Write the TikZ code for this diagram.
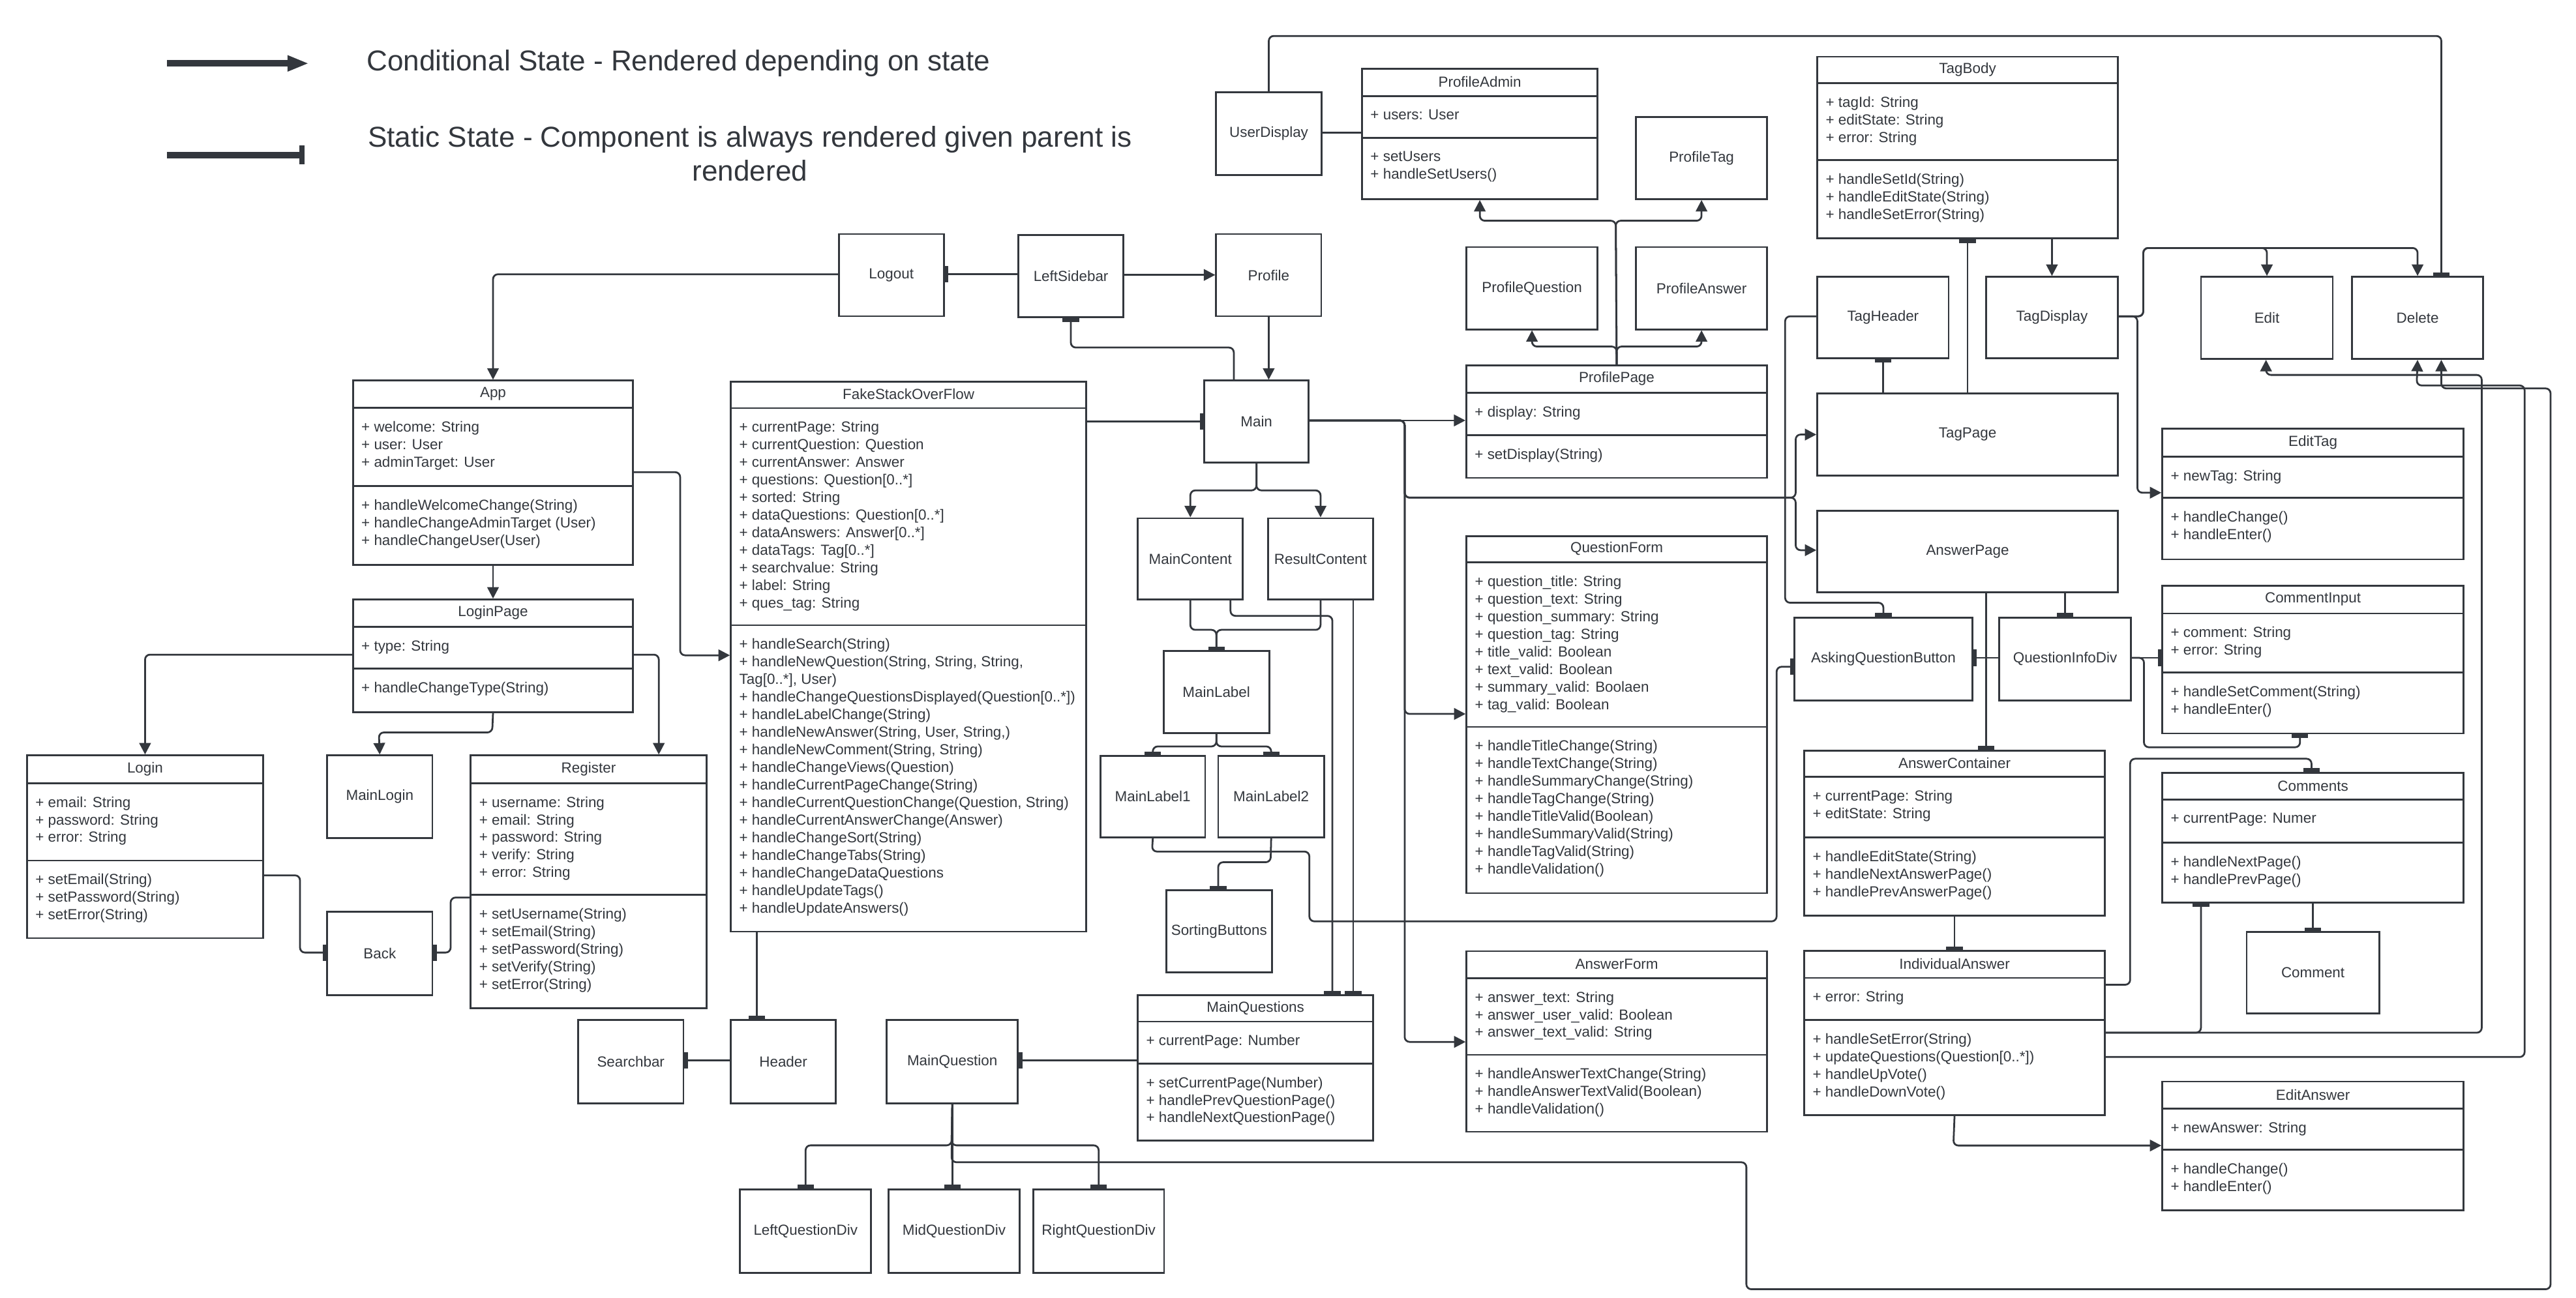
\documentclass[tikz,border=0pt]{standalone}
\usepackage{fontspec}
\setmainfont{Liberation Sans}
\usetikzlibrary{arrows.meta}
\definecolor{ink}{HTML}{33373D}

\begin{document}
\begin{tikzpicture}[x=1pt, y=-1pt,
  every node/.style={font=\fontsize{8.9}{10.7}\selectfont, text=ink},
  box/.style={draw=ink, line width=1.1pt, anchor=north west, inner sep=0pt},
  members/.style={anchor=north west, align=left, inner sep=0pt, xshift=5.5pt},
  divider/.style={draw=ink, line width=1.1pt},
  wire/.style={draw=ink, line width=1.1pt, rounded corners=3pt},
  cond/.style={wire, -{Triangle[length=7pt,width=7pt]}},
  stat/.style={wire, -{Bar[width=10pt,line width=2.2pt]}},
  legendtext/.style={font=\fontsize{17.5}{20.5}\selectfont}]
\useasboundingbox (0,0) rectangle (1568,790);

% legend
\coordinate (legCondA) at (101.7,38.6);
\coordinate (legCondB) at (188,38.6);
\coordinate (legStatA) at (101.7,94.4);
\coordinate (legStatB) at (185.5,94.4);
\draw[draw=ink, line width=4pt, -{Triangle[length=13pt,width=9pt]}] (legCondA) -- (legCondB);
\draw[draw=ink, line width=4pt, -{Bar[width=11.5pt,line width=3.2pt]}] (legStatA) -- (legStatB);
\node[legendtext, anchor=west, inner sep=0pt] (legCondTxt) at (223,38.6) {Conditional State - Rendered depending on state};
\node[legendtext, align=center] (legStatTxt) at (456.5,93.6) {Static State - Component is always rendered given parent is\\rendered};

% simple components
\node[box, minimum width=64pt, minimum height=50pt] (logout) at (510,142) {Logout};
\node[box, minimum width=64pt, minimum height=50pt] (leftSidebar) at (619.3,142.6) {LeftSidebar};
\node[box, minimum width=64pt, minimum height=50pt] (profile) at (739.7,142) {Profile};
\node[box, minimum width=64.5pt, minimum height=50.4pt] (userDisplay) at (739.5,55.6) {UserDisplay};
\node[box, minimum width=63.5pt, minimum height=49.8pt] (main) at (732.5,231.2) {Main};
\node[box, minimum width=64pt, minimum height=49.4pt] (mainContent) at (692,315) {MainContent};
\node[box, minimum width=64.1pt, minimum height=49.4pt] (resultContent) at (771.2,315) {ResultContent};
\node[box, minimum width=64.3pt, minimum height=50pt] (mainLabel) at (707.7,395.8) {MainLabel};
\node[box, minimum width=63.7pt, minimum height=49.6pt] (mainLabel1) at (669.3,459.7) {MainLabel1};
\node[box, minimum width=64.4pt, minimum height=49.6pt] (mainLabel2) at (741,459.7) {MainLabel2};
\node[box, minimum width=64.4pt, minimum height=50.1pt] (sortingButtons) at (709.3,541.5) {SortingButtons};
\node[box, minimum width=64.2pt, minimum height=50.6pt] (searchbar) at (351.3,620.6) {Searchbar};
\node[box, minimum width=63.9pt, minimum height=50.6pt] (header) at (444.3,620.6) {Header};
\node[box, minimum width=79.8pt, minimum height=50.6pt] (mainQuestion) at (539.2,620.6) {MainQuestion};
\node[box, minimum width=79.8pt, minimum height=50.8pt] (leftQDiv) at (449.9,723.6) {LeftQuestionDiv};
\node[box, minimum width=79.6pt, minimum height=50.8pt] (midQDiv) at (540.4,723.6) {MidQuestionDiv};
\node[box, minimum width=79.6pt, minimum height=50.8pt] (rightQDiv) at (628.4,723.6) {RightQuestionDiv};
\node[box, minimum width=64pt, minimum height=50.3pt] (mainLogin) at (198.6,459.4) {MainLogin};
\node[box, minimum width=64pt, minimum height=50.7pt] (back) at (198.6,554.7) {Back};
\node[box, minimum width=79.7pt, minimum height=50.1pt] (profileTag) at (995.3,70.6) {ProfileTag};
\node[box, minimum width=79.9pt, minimum height=50.1pt] (profileQuestion) at (892,149.9) {ProfileQuestion};
\node[box, minimum width=79.7pt, minimum height=50.1pt] (profileAnswer) at (995.3,149.9) {ProfileAnswer};
\node[box, minimum width=80pt, minimum height=49.6pt] (tagHeader) at (1105.6,168) {TagHeader};
\node[box, minimum width=80.3pt, minimum height=49.6pt] (tagDisplay) at (1208.3,168) {TagDisplay};
\node[box, minimum width=183pt, minimum height=50pt] (tagPage) at (1105.6,239) {TagPage};
\node[box, minimum width=183pt, minimum height=49.6pt] (answerPage) at (1105.6,310.4) {AnswerPage};
\node[box, minimum width=80.2pt, minimum height=50pt] (edit) at (1339.2,168) {Edit};
\node[box, minimum width=80pt, minimum height=50pt] (delete) at (1431,168) {Delete};
\node[box, minimum width=108.3pt, minimum height=50.5pt] (askingQButton) at (1091.7,375.5) {AskingQuestionButton};
\node[box, minimum width=80.1pt, minimum height=50.5pt] (qInfoDiv) at (1216.4,375.5) {QuestionInfoDiv};
\node[box, minimum width=80.6pt, minimum height=49.5pt] (comment) at (1367,567) {Comment};

% App
\node[box, minimum width=170.5pt, minimum height=112.1pt] (app) at (214.3,231.2) {};
\draw[divider] (app.west |- 0,248.2) -- (app.east |- 0,248.2);
\draw[divider] (app.west |- 0,296) -- (app.east |- 0,296);
\node (appName) at (app.north |- 0,239.7) {App};
\node[members] (appAttr) at (app.west |- 0,256.2) {+ welcome: String\\+ user: User\\+ adminTarget: User};
\node[members] (appOps) at (app.west |- 0,304) {+ handleWelcomeChange(String)\\+ handleChangeAdminTarget (User)\\+ handleChangeUser(User)};

% LoginPage
\node[box, minimum width=170.5pt, minimum height=68.5pt] (loginPage) at (214.3,364.5) {};
\draw[divider] (loginPage.west |- 0,381.6) -- (loginPage.east |- 0,381.6);
\draw[divider] (loginPage.west |- 0,407) -- (loginPage.east |- 0,407);
\node (loginPageName) at (loginPage.north |- 0,373.05) {LoginPage};
\node[members] (loginPageAttr) at (loginPage.west |- 0,389.6) {+ type: String};
\node[members] (loginPageOps) at (loginPage.west |- 0,415) {+ handleChangeType(String)};

% Login
\node[box, minimum width=143.7pt, minimum height=111.3pt] (login) at (15.9,459.4) {};
\draw[divider] (login.west |- 0,476.8) -- (login.east |- 0,476.8);
\draw[divider] (login.west |- 0,524) -- (login.east |- 0,524);
\node (loginName) at (login.north |- 0,468.1) {Login};
\node[members] (loginAttr) at (login.west |- 0,484.8) {+ email: String\\+ password: String\\+ error: String};
\node[members] (loginOps) at (login.west |- 0,532) {+ setEmail(String)\\+ setPassword(String)\\+ setError(String)};

% Register
\node[box, minimum width=143.4pt, minimum height=154pt] (register) at (286,459.4) {};
\draw[divider] (register.west |- 0,476.8) -- (register.east |- 0,476.8);
\draw[divider] (register.west |- 0,544.8) -- (register.east |- 0,544.8);
\node (registerName) at (register.north |- 0,468.1) {Register};
\node[members] (registerAttr) at (register.west |- 0,484.8) {+ username: String\\+ email: String\\+ password: String\\+ verify: String\\+ error: String};
\node[members] (registerOps) at (register.west |- 0,552.8) {+ setUsername(String)\\+ setEmail(String)\\+ setPassword(String)\\+ setVerify(String)\\+ setError(String)};

% FakeStackOverFlow
\node[box, minimum width=216.3pt, minimum height=334.9pt] (fso) at (444.3,231.8) {};
\draw[divider] (fso.west |- 0,248.5) -- (fso.east |- 0,248.5);
\draw[divider] (fso.west |- 0,380.7) -- (fso.east |- 0,380.7);
\node (fsoName) at (fso.north |- 0,240.15) {FakeStackOverFlow};
\node[members] (fsoAttr) at (fso.west |- 0,256.5) {+ currentPage: String\\+ currentQuestion: Question\\+ currentAnswer: Answer\\+ questions: Question[0..*]\\+ sorted: String\\+ dataQuestions: Question[0..*]\\+ dataAnswers: Answer[0..*]\\+ dataTags: Tag[0..*]\\+ searchvalue: String\\+ label: String\\+ ques\_tag: String};
\node[members] (fsoOps) at (fso.west |- 0,388.7) {+ handleSearch(String)\\+ handleNewQuestion(String, String, String,\\Tag[0..*], User)\\+ handleChangeQuestionsDisplayed(Question[0..*])\\+ handleLabelChange(String)\\+ handleNewAnswer(String, User, String,)\\+ handleNewComment(String, String)\\+ handleChangeViews(Question)\\+ handleCurrentPageChange(String)\\+ handleCurrentQuestionChange(Question, String)\\+ handleCurrentAnswerChange(Answer)\\+ handleChangeSort(String)\\+ handleChangeTabs(String)\\+ handleChangeDataQuestions\\+ handleUpdateTags()\\+ handleUpdateAnswers()};

% MainQuestions
\node[box, minimum width=143.3pt, minimum height=88.6pt] (mainQuestions) at (692,605.4) {};
\draw[divider] (mainQuestions.west |- 0,622) -- (mainQuestions.east |- 0,622);
\draw[divider] (mainQuestions.west |- 0,647.5) -- (mainQuestions.east |- 0,647.5);
\node (mainQuestionsName) at (mainQuestions.north |- 0,613.7) {MainQuestions};
\node[members] (mainQuestionsAttr) at (mainQuestions.west |- 0,630) {+ currentPage: Number};
\node[members] (mainQuestionsOps) at (mainQuestions.west |- 0,655.5) {+ setCurrentPage(Number)\\+ handlePrevQuestionPage()\\+ handleNextQuestionPage()};

% ProfileAdmin
\node[box, minimum width=143.4pt, minimum height=79.3pt] (profileAdmin) at (828.5,41.4) {};
\draw[divider] (profileAdmin.west |- 0,58.6) -- (profileAdmin.east |- 0,58.6);
\draw[divider] (profileAdmin.west |- 0,84.1) -- (profileAdmin.east |- 0,84.1);
\node (profileAdminName) at (profileAdmin.north |- 0,50) {ProfileAdmin};
\node[members] (profileAdminAttr) at (profileAdmin.west |- 0,66.6) {+ users: User};
\node[members] (profileAdminOps) at (profileAdmin.west |- 0,92.1) {+ setUsers\\+ handleSetUsers()};

% ProfilePage
\node[box, minimum width=183pt, minimum height=68.4pt] (profilePage) at (892,222) {};
\draw[divider] (profilePage.west |- 0,239.2) -- (profilePage.east |- 0,239.2);
\draw[divider] (profilePage.west |- 0,264.9) -- (profilePage.east |- 0,264.9);
\node (profilePageName) at (profilePage.north |- 0,230.6) {ProfilePage};
\node[members] (profilePageAttr) at (profilePage.west |- 0,247.2) {+ display: String};
\node[members] (profilePageOps) at (profilePage.west |- 0,272.9) {+ setDisplay(String)};

% QuestionForm
\node[box, minimum width=182.9pt, minimum height=217.3pt] (questionForm) at (892.1,326) {};
\draw[divider] (questionForm.west |- 0,342.4) -- (questionForm.east |- 0,342.4);
\draw[divider] (questionForm.west |- 0,442.6) -- (questionForm.east |- 0,442.6);
\node (questionFormName) at (questionForm.north |- 0,334.2) {QuestionForm};
\node[members] (questionFormAttr) at (questionForm.west |- 0,350.4) {+ question\_title: String\\+ question\_text: String\\+ question\_summary: String\\+ question\_tag: String\\+ title\_valid: Boolean\\+ text\_valid: Boolean\\+ summary\_valid: Boolaen\\+ tag\_valid: Boolean};
\node[members] (questionFormOps) at (questionForm.west |- 0,450.6) {+ handleTitleChange(String)\\+ handleTextChange(String)\\+ handleSummaryChange(String)\\+ handleTagChange(String)\\+ handleTitleValid(Boolean)\\+ handleSummaryValid(String)\\+ handleTagValid(String)\\+ handleValidation()};

% AnswerForm
\node[box, minimum width=182.9pt, minimum height=110pt] (answerForm) at (892.1,578.6) {};
\draw[divider] (answerForm.west |- 0,595.5) -- (answerForm.east |- 0,595.5);
\draw[divider] (answerForm.west |- 0,642.3) -- (answerForm.east |- 0,642.3);
\node (answerFormName) at (answerForm.north |- 0,587.05) {AnswerForm};
\node[members] (answerFormAttr) at (answerForm.west |- 0,603.5) {+ answer\_text: String\\+ answer\_user\_valid: Boolean\\+ answer\_text\_valid: String};
\node[members] (answerFormOps) at (answerForm.west |- 0,650.3) {+ handleAnswerTextChange(String)\\+ handleAnswerTextValid(Boolean)\\+ handleValidation()};

% TagBody
\node[box, minimum width=183pt, minimum height=110.6pt] (tagBody) at (1105.6,34) {};
\draw[divider] (tagBody.west |- 0,50.5) -- (tagBody.east |- 0,50.5);
\draw[divider] (tagBody.west |- 0,97.6) -- (tagBody.east |- 0,97.6);
\node (tagBodyName) at (tagBody.north |- 0,42.25) {TagBody};
\node[members] (tagBodyAttr) at (tagBody.west |- 0,58.5) {+ tagId: String\\+ editState: String\\+ error: String};
\node[members] (tagBodyOps) at (tagBody.west |- 0,105.6) {+ handleSetId(String)\\+ handleEditState(String)\\+ handleSetError(String)};

% AnswerContainer
\node[box, minimum width=182.9pt, minimum height=100.5pt] (answerContainer) at (1097.7,456.5) {};
\draw[divider] (answerContainer.west |- 0,473) -- (answerContainer.east |- 0,473);
\draw[divider] (answerContainer.west |- 0,510) -- (answerContainer.east |- 0,510);
\node (answerContainerName) at (answerContainer.north |- 0,464.75) {AnswerContainer};
\node[members] (answerContainerAttr) at (answerContainer.west |- 0,481) {+ currentPage: String\\+ editState: String};
\node[members] (answerContainerOps) at (answerContainer.west |- 0,518) {+ handleEditState(String)\\+ handleNextAnswerPage()\\+ handlePrevAnswerPage()};

% IndividualAnswer
\node[box, minimum width=182.9pt, minimum height=100.1pt] (indAnswer) at (1097.7,578.4) {};
\draw[divider] (indAnswer.west |- 0,595.4) -- (indAnswer.east |- 0,595.4);
\draw[divider] (indAnswer.west |- 0,621) -- (indAnswer.east |- 0,621);
\node (indAnswerName) at (indAnswer.north |- 0,586.9) {IndividualAnswer};
\node[members] (indAnswerAttr) at (indAnswer.west |- 0,603.4) {+ error: String};
\node[members] (indAnswerOps) at (indAnswer.west |- 0,629) {+ handleSetError(String)\\+ updateQuestions(Question[0..*])\\+ handleUpVote()\\+ handleDownVote()};

% EditTag
\node[box, minimum width=183.4pt, minimum height=79.4pt] (editTag) at (1315.6,260.6) {};
\draw[divider] (editTag.west |- 0,278) -- (editTag.east |- 0,278);
\draw[divider] (editTag.west |- 0,303) -- (editTag.east |- 0,303);
\node (editTagName) at (editTag.north |- 0,269.3) {EditTag};
\node[members] (editTagAttr) at (editTag.west |- 0,286) {+ newTag: String};
\node[members] (editTagOps) at (editTag.west |- 0,311) {+ handleChange()\\+ handleEnter()};

% CommentInput
\node[box, minimum width=183.4pt, minimum height=90pt] (commentInput) at (1315.6,356) {};
\draw[divider] (commentInput.west |- 0,373.5) -- (commentInput.east |- 0,373.5);
\draw[divider] (commentInput.west |- 0,409.6) -- (commentInput.east |- 0,409.6);
\node (commentInputName) at (commentInput.north |- 0,364.75) {CommentInput};
\node[members] (commentInputAttr) at (commentInput.west |- 0,381.5) {+ comment: String\\+ error: String};
\node[members] (commentInputOps) at (commentInput.west |- 0,417.6) {+ handleSetComment(String)\\+ handleEnter()};

% Comments
\node[box, minimum width=183.4pt, minimum height=79pt] (comments) at (1315.6,470) {};
\draw[divider] (comments.west |- 0,487) -- (comments.east |- 0,487);
\draw[divider] (comments.west |- 0,513) -- (comments.east |- 0,513);
\node (commentsName) at (comments.north |- 0,478.5) {Comments};
\node[members] (commentsAttr) at (comments.west |- 0,495) {+ currentPage: Numer};
\node[members] (commentsOps) at (comments.west |- 0,521) {+ handleNextPage()\\+ handlePrevPage()};

% EditAnswer
\node[box, minimum width=183.4pt, minimum height=78.5pt] (editAnswer) at (1315.6,658) {};
\draw[divider] (editAnswer.west |- 0,675) -- (editAnswer.east |- 0,675);
\draw[divider] (editAnswer.west |- 0,700) -- (editAnswer.east |- 0,700);
\node (editAnswerName) at (editAnswer.north |- 0,666.5) {EditAnswer};
\node[members] (editAnswerAttr) at (editAnswer.west |- 0,683) {+ newAnswer: String};
\node[members] (editAnswerOps) at (editAnswer.west |- 0,708) {+ handleChange()\\+ handleEnter()};

% connectors, left part
\draw[cond] (logout.west |- 0,167) -| (app.north);
\draw[stat] (leftSidebar.west |- 0,167) -- (logout.east |- 0,167);
\draw[cond] (leftSidebar.east |- 0,167.4) -- (profile.west |- 0,167.4);
\draw[cond] (profile.south) -- (profile.south |- main.north);
\draw[stat] (751,0 |- main.north) -- (751,211.6) -- (651.8,211.6) -- (651.8,0 |- leftSidebar.south);
\draw[cond] (app.south) -- (loginPage.north);
\draw[cond] (app.east |- 0,287.5) -- (414,287.5) -- (414,399) -- (fso.west |- 0,399);
\draw[cond] (loginPage.west |- 0,398.6) -| (login.north);
\draw[cond] (loginPage.south) -- (299.6,446) -- (230.6,446) -- (mainLogin.north);
\draw[cond] (loginPage.east |- 0,398.6) -- (401,398.6) -- (401,0 |- register.north);
\draw[stat] (login.east |- 0,533) -- (182.6,533) -- (182.6,580) -- (back.west |- 0,580);
\draw[stat] (register.west |- 0,546.5) -- (274.3,546.5) -- (274.3,580) -- (back.east |- 0,580);
\draw[stat] (fso.east |- 0,256.5) -- (main.west |- 0,256.5);
\draw[stat] (460.8,0 |- fso.south) -- (460.8,0 |- header.north);
\draw[stat] (header.west |- 0,645.8) -- (searchbar.east |- 0,645.8);
\draw[stat] (mainQuestions.west |- 0,645.8) -- (mainQuestion.east |- 0,645.8);
\draw[stat] (mainQuestion.south) -- (579.2,697.4) -| (leftQDiv.north);
\draw[stat] (mainQuestion.south) -- (mainQuestion.south |- midQDiv.north);
\draw[stat] (mainQuestion.south) -- (579.2,697.4) -| (rightQDiv.north);
\draw[cond] (mainQuestion.south) -- (579.2,707.7) -- (1063,707.7) -- (1063,785) -- (1552.5,785) -- (1552.5,236.5) -- (1486,236.5) -- (1486,0 |- delete.south);

% connectors, Main
\draw[cond] (main.south) -- ++(0,16.5) -| (mainContent.north);
\draw[cond] (main.south) -- ++(0,16.5) -| (resultContent.north);
\draw[stat] (mainContent.south) -- ++(0,18) -| (mainLabel.north);
\draw[stat] (resultContent.south) -- ++(0,18) -| (mainLabel.north);
\draw[stat] (749,0 |- mainContent.south) -- (749,375) -- (811,375) -- (811,0 |- mainQuestions.north);
\draw[stat] (823.7,0 |- resultContent.south) -- (823.7,0 |- mainQuestions.north);
\draw[stat] (mainLabel.south) -- ++(0,7.6) -| (mainLabel1.north);
\draw[stat] (mainLabel.south) -- ++(0,7.6) -| (mainLabel2.north);
\draw[stat] (mainLabel2.south) -- (773.4,525) -- (741.5,525) -- (741.5,0 |- sortingButtons.north);
\draw[stat] (mainLabel1.south) -- (701.2,518.5) -- (797,518.5) -- (797,561) -- (1081.4,561) -- (1081.4,406) -- (askingQButton.west |- 0,406);
\draw[cond] (main.east |- 0,256) -- (profilePage.west |- 0,256);
\draw[cond] (main.east |- 0,256) -- (855,256) -- (855,434.7) -- (questionForm.west |- 0,434.7);
\draw[cond] (main.east |- 0,256) -- (855,256) -- (855,634.4) -- (answerForm.west |- 0,634.4);
\draw[cond] (main.east |- 0,256) -- (855,256) -- (855,303) -- (1093,303) -- (1093,264.6) -- (tagPage.west |- 0,264.6);
\draw[cond] (main.east |- 0,256) -- (855,256) -- (855,303) -- (1093,303) -- (1093,335) -- (answerPage.west |- 0,335);

% connectors, profile
\draw[cond] (profilePage.north) -- ++(0,-11) -| (profileQuestion.south);
\draw[cond] (profilePage.north) -- ++(0,-11) -| (profileAnswer.south);
\draw[cond] (profilePage.north) -- (983.5,134.4) -| (profileAdmin.south);
\draw[cond] (profilePage.north) -- (983.5,134.4) -| (profileTag.south);
\draw[wire] (userDisplay.east |- 0,80.8) -- (profileAdmin.west |- 0,80.8);
\draw[stat] (userDisplay.north) |- (1486,21.9) -- (1486,0 |- delete.north);

% connectors, tags and answers
\draw[cond] (tagDisplay.north |- tagBody.south) -- (tagDisplay.north);
\draw[stat] (tagPage.north) -- (tagBody.south);
\draw[stat] (tagHeader.south |- tagPage.north) -- (tagHeader.south);
\draw[stat] (tagHeader.west |- 0,192.6) -- (1086.6,192.6) -- (1086.6,367) -| (askingQButton.north);
\draw[cond] (tagDisplay.east |- 0,192.6) -- (1304.6,192.6) -- (1304.6,151) -| (edit.north);
\draw[cond] (tagDisplay.east |- 0,192.6) -- (1304.6,192.6) -- (1304.6,151) -| (delete.north);
\draw[cond] (tagDisplay.east |- 0,192.6) -- (1301,192.6) -- (1301,300) -- (editTag.west |- 0,300);
\draw[stat] (1209,0 |- answerPage.south) -- (1209,0 |- answerContainer.north);
\draw[stat] (qInfoDiv.north |- answerPage.south) -- (qInfoDiv.north);
\draw[stat] (qInfoDiv.west |- 0,400.5) -- (askingQButton.east |- 0,400.5);
\draw[stat] (answerContainer.south) -- (indAnswer.north);
\draw[stat] (qInfoDiv.east |- 0,400.5) -- (commentInput.west |- 0,400.5);
\draw[stat] (qInfoDiv.east |- 0,400.5) -- (1305,400.5) -- (1305,455) -- (1400,455) -- (1400,0 |- commentInput.south);
\draw[stat] (indAnswer.east |- 0,599.6) -- (1296.6,599.6) -- (1296.6,462) -- (1407,462) -- (1407,0 |- comments.north);
\draw[stat] (indAnswer.east |- 0,628.8) -- (1339.7,628.8) -- (1339.7,0 |- comments.south);
\draw[cond] (indAnswer.east |- 0,628.8) -- (1510.6,628.8) -- (1510.6,228.3) -- (1379.3,228.3) -- (1379.3,0 |- edit.south);
\draw[cond] (indAnswer.east |- 0,643.6) -- (1536.7,643.6) -- (1536.7,234.7) -- (1471,234.7) -- (delete.south);
\draw[cond] (indAnswer.south) -- (1189,697.5) -- (editAnswer.west |- 0,697.5);
\draw[stat] (comments.south) -- (comment.north);
\end{tikzpicture}
\end{document}
